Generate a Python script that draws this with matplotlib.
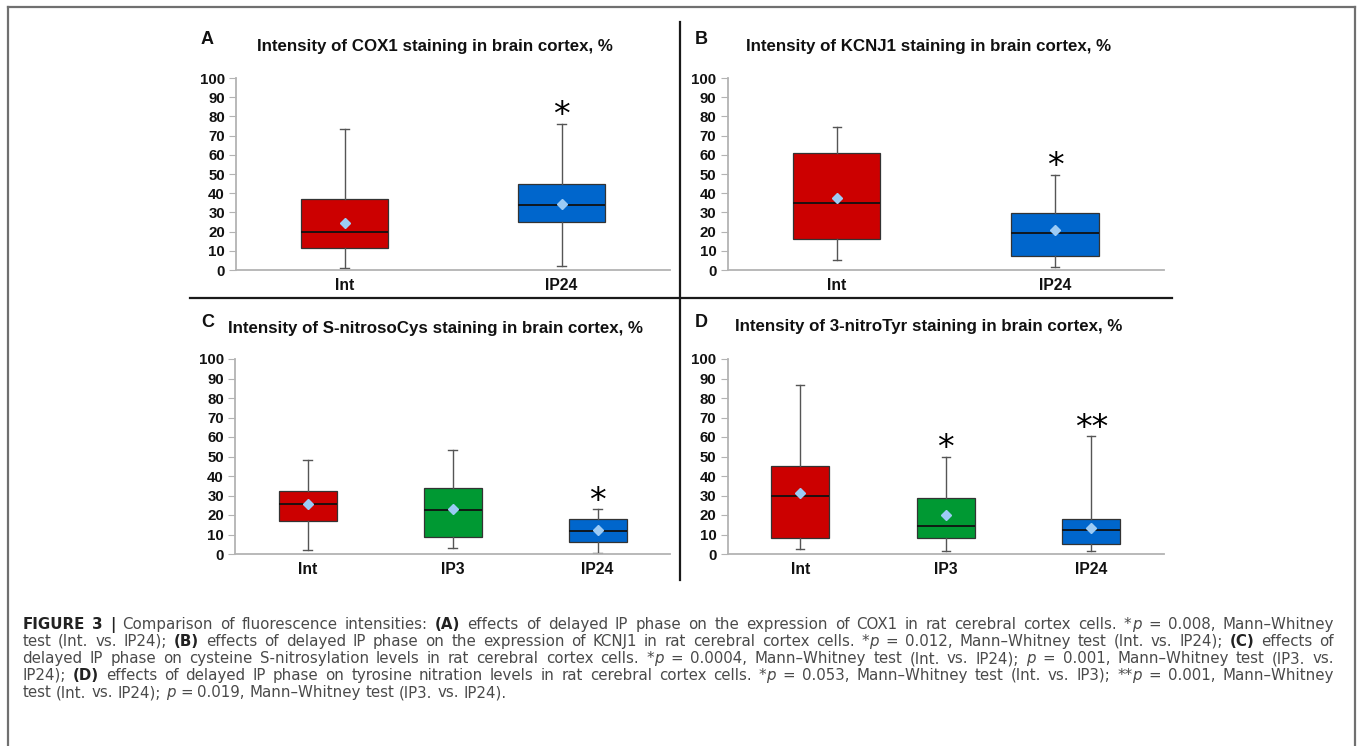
import matplotlib
matplotlib.use("Agg")
import matplotlib.pyplot as plt
from matplotlib.lines import Line2D
from matplotlib.transforms import IdentityTransform

plt.rcParams['font.family'] = 'Liberation Sans'

# A: COX1 (box stats, %)
cox1_groups = ["Int", "IP24"]
cox1_whislo = [1.2, 2.3]
cox1_q1 = [11.5, 24.8]
cox1_med = [20.0, 34.0]
cox1_q3 = [37.0, 44.6]
cox1_whishi = [73.3, 76.0]
cox1_mean = [24.5, 34.6]
cox1_stars = ["", "*"]

# B: KCNJ1
kcnj1_groups = ["Int", "IP24"]
kcnj1_whislo = [5.4, 1.4]
kcnj1_q1 = [16.2, 7.1]
kcnj1_med = [35.0, 19.5]
kcnj1_q3 = [61.0, 29.7]
kcnj1_whishi = [74.5, 49.5]
kcnj1_mean = [37.3, 20.7]
kcnj1_stars = ["", "*"]

# C: S-nitrosoCys
snc_groups = ["Int", "IP3", "IP24"]
snc_whislo = [2.0, 2.9, 0.5]
snc_q1 = [17.0, 8.7, 6.2]
snc_med = [25.5, 22.7, 12.0]
snc_q3 = [32.5, 34.0, 17.8]
snc_whishi = [48.0, 53.5, 22.9]
snc_mean = [25.6, 23.2, 12.3]
snc_stars = ["", "", "*"]

# D: 3-nitroTyr
ntyr_groups = ["Int", "IP3", "IP24"]
ntyr_whislo = [2.4, 1.4, 1.5]
ntyr_q1 = [8.2, 8.0, 5.3]
ntyr_med = [29.6, 14.4, 12.3]
ntyr_q3 = [45.0, 28.9, 18.1]
ntyr_whishi = [86.5, 50.0, 60.3]
ntyr_mean = [31.5, 20.0, 13.3]
ntyr_stars = ["", "*", "**"]

group_colors = {"Int": "#cc0000", "IP3": "#009933", "IP24": "#0066cc"}

caption_lines = [
    "§FIGURE§ §3§ §|§ Comparison of fluorescence intensities: §(A)§ effects of delayed IP phase on the expression of COX1 in rat cerebral cortex cells. *~p~ = 0.008, Mann–Whitney",
    "test (Int. vs. IP24); §(B)§ effects of delayed IP phase on the expression of KCNJ1 in rat cerebral cortex cells. *~p~ = 0.012, Mann–Whitney test (Int. vs. IP24); §(C)§ effects of",
    "delayed IP phase on cysteine S-nitrosylation levels in rat cerebral cortex cells. *~p~ = 0.0004, Mann–Whitney test (Int. vs. IP24); ~p~ = 0.001, Mann–Whitney test (IP3. vs.",
    "IP24); §(D)§ effects of delayed IP phase on tyrosine nitration levels in rat cerebral cortex cells. *~p~ = 0.053, Mann–Whitney test (Int. vs. IP3); **~p~ = 0.001, Mann–Whitney",
    "test (Int. vs. IP24); ~p~ = 0.019, Mann–Whitney test (IP3. vs. IP24).",
]

W, H = 1357, 746
fig = plt.figure(figsize=(W / 100, H / 100), dpi=100)
fig.patch.set_facecolor("white")


def px_rect(x0, x1, ytop, ybot):
    return [x0 / W, 1 - ybot / H, (x1 - x0) / W, (ybot - ytop) / H]


def draw_panel(rect, groups, whislo, q1, med, q3, whishi, mean, stars):
    ax = fig.add_axes(rect)
    n = len(groups)
    stats = []
    for g, lo, a, m, b, hi, mu in zip(groups, whislo, q1, med, q3, whishi, mean):
        stats.append(dict(label=g, whislo=lo, q1=a, med=m, q3=b, whishi=hi, mean=mu, fliers=[]))
    bp = ax.bxp(stats, positions=list(range(n)), widths=0.4, patch_artist=True,
                showmeans=True, capwidths=0.0185 * n,
                boxprops=dict(edgecolor="#333333", linewidth=0.9),
                medianprops=dict(color="#111111", linewidth=1.3),
                whiskerprops=dict(color="#555555", linewidth=1.0),
                capprops=dict(color="#555555", linewidth=1.0),
                meanprops=dict(marker="D", markerfacecolor="#9ccbf5",
                               markeredgecolor="#9ccbf5", markersize=5))
    for patch, g in zip(bp["boxes"], groups):
        patch.set_facecolor(group_colors[g])
    for i, s in enumerate(stars):
        if s:
            ax.annotate(s, (i, whishi[i]), xytext=(0, -1), textcoords="offset points",
                        ha="center", va="baseline", fontsize=24, family="DejaVu Sans")
    ax.set_xlim(-0.5, n - 0.5)
    ax.set_ylim(0, 100)
    ax.set_yticks(range(0, 101, 10), labels=[str(v) for v in range(0, 101, 10)],
                  fontweight="bold", fontsize=10.8)
    ax.set_xticks(range(n), labels=groups, fontweight="bold", fontsize=11.3)
    ax.tick_params(axis="y", length=5, color="#b3b3b3", pad=3, labelcolor="#111111")
    ax.tick_params(axis="x", length=0, pad=6, labelcolor="#111111")
    for side in ["top", "right"]:
        ax.spines[side].set_visible(False)
    for side in ["left", "bottom"]:
        ax.spines[side].set_color("#b3b3b3")
        ax.spines[side].set_linewidth(1.3)
    ax.set_facecolor("none")
    return ax


draw_panel(px_rect(236, 670, 78, 270), cox1_groups, cox1_whislo, cox1_q1, cox1_med,
           cox1_q3, cox1_whishi, cox1_mean, cox1_stars)
draw_panel(px_rect(727.5, 1164, 78, 270), kcnj1_groups, kcnj1_whislo, kcnj1_q1, kcnj1_med,
           kcnj1_q3, kcnj1_whishi, kcnj1_mean, kcnj1_stars)
draw_panel(px_rect(235, 670, 359, 554), snc_groups, snc_whislo, snc_q1, snc_med,
           snc_q3, snc_whishi, snc_mean, snc_stars)
draw_panel(px_rect(727.5, 1164, 359, 554), ntyr_groups, ntyr_whislo, ntyr_q1, ntyr_med,
           ntyr_q3, ntyr_whishi, ntyr_mean, ntyr_stars)

# titles and panel letters
titles = [
    ("A", 207, 40, "Intensity of COX1 staining in brain cortex, %", 435, 47),
    ("B", 701, 40, "Intensity of KCNJ1 staining in brain cortex, %", 929, 47),
    ("C", 208, 322, "Intensity of S-nitrosoCys staining in brain cortex, %", 436, 328),
    ("D", 701, 322, "Intensity of 3-nitroTyr staining in brain cortex, %", 929, 327),
]
for letter, lx, ly, title, tx, ty in titles:
    fig.text(lx / W, 1 - ly / H, letter, ha="center", va="center", fontsize=13,
             fontweight="bold", color="#111111")
    fig.text(tx / W, 1 - ty / H, title, ha="center", va="center", fontsize=12.2,
             fontweight="bold", color="#111111")

# panel dividers
fig.add_artist(Line2D([680 / W, 680 / W], [1 - 22 / H, 1 - 580 / H],
                      transform=fig.transFigure, color="#1a1a1a", lw=1.6))
fig.add_artist(Line2D([190 / W, 1172 / W], [1 - 298 / H, 1 - 298 / H],
                      transform=fig.transFigure, color="#1a1a1a", lw=1.6))

# page frame
frame = dict(transform=fig.transFigure, color="#707070", lw=1.6)
fig.add_artist(Line2D([7.5 / W, 7.5 / W], [0, 1 - 6.5 / H], **frame))
fig.add_artist(Line2D([7.5 / W, 1354.5 / W], [1 - 6.5 / H, 1 - 6.5 / H], **frame))
fig.add_artist(Line2D([1354.5 / W, 1354.5 / W], [0, 1 - 6.5 / H], **frame))

# justified caption
renderer = fig.canvas.get_renderer()
cap_font = dict(family="DejaVu Sans", fontsize=10.8, color="#4a4a4a")


def parse_word(word):
    pieces, style, buf = [], "n", ""
    for ch in word:
        if ch in "§~":
            if buf:
                pieces.append((buf, style))
                buf = ""
            new = "b" if ch == "§" else "i"
            style = "n" if style == new else new
        else:
            buf += ch
    if buf:
        pieces.append((buf, style))
    return pieces


def make_text(x, y, s, style):
    kw = dict(cap_font)
    if style == "b":
        kw["fontweight"] = "bold"
        kw["color"] = "#222222"
    if style == "i":
        kw["fontstyle"] = "italic"
    return fig.text(x, y, s, transform=IdentityTransform(), ha="left", va="baseline", **kw)


probe = make_text(0, 0, "a a", "n")
w2 = probe.get_window_extent(renderer).width
probe.set_text("aa")
space_w = w2 - probe.get_window_extent(renderer).width
probe.remove()

cap_left, cap_right = 22.5, 1334
baselines = [628.7, 646, 663, 680, 697]
for k, (line, base) in enumerate(zip(caption_lines, baselines)):
    y = H - base
    words = []
    for word in line.split(" "):
        items = []
        for s, st in parse_word(word):
            t = make_text(0, y, s, st)
            items.append((t, t.get_window_extent(renderer).width))
        words.append(items)
    total = sum(w for items in words for _, w in items)
    if k < len(caption_lines) - 1:
        gap = (cap_right - cap_left - total) / (len(words) - 1)
    else:
        gap = space_w
    x = cap_left
    for items in words:
        for t, w in items:
            t.set_x(x)
            x += w
        x += gap

fig.savefig("out.png", dpi=100, facecolor="white")
